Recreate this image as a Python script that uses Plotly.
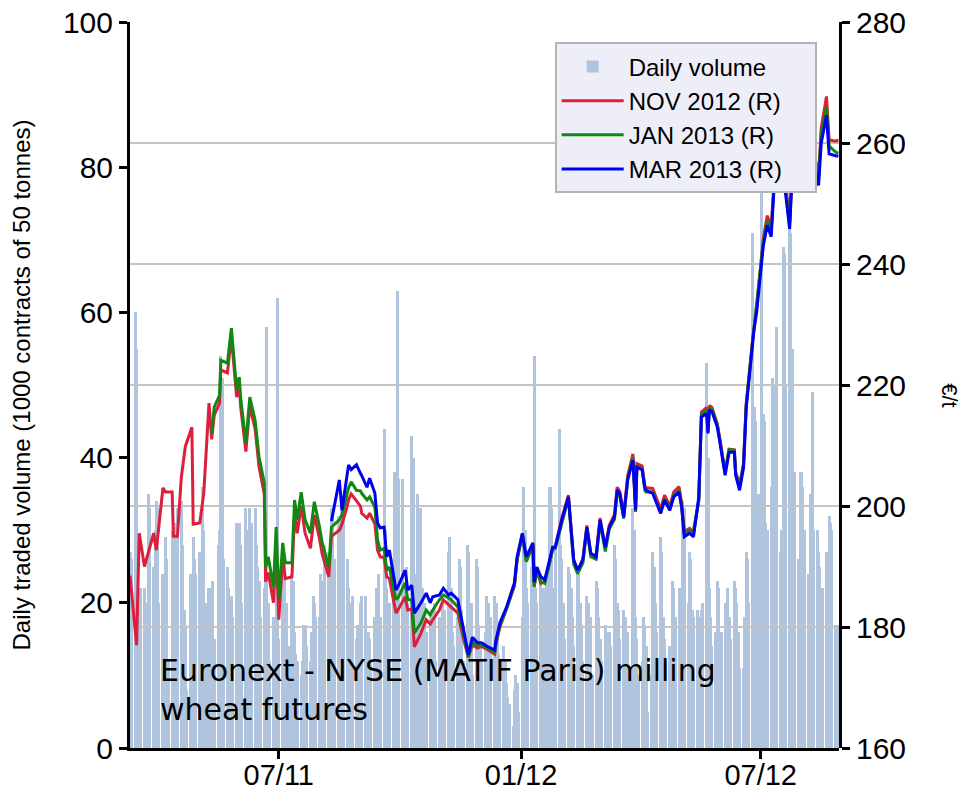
import plotly.graph_objects as go
import pandas as pd

# Daily traded volume (1000 contracts), one value per business day, month by month
VOL_2011_03 = [27, 26, 60, 55, 22, 21, 22, 22, 20, 15, 35, 33, 25, 30, 34, 33]
VOL_2011_04 = [20, 24, 18, 29, 26, 12, 30, 27, 31, 25, 33, 34, 28, 19, 17, 8, 24, 21, 29, 26, 24]
VOL_2011_05 = [27, 25, 36, 30, 20, 22, 19, 18, 23, 15, 28, 30, 54, 51, 26, 25, 22, 20, 21, 18, 31, 29]
VOL_2011_06 = [31, 28, 20, 33, 30, 25, 33, 31, 33, 28, 25, 23, 18, 22, 24, 58, 20, 12, 18, 18, 28, 62]
VOL_2011_07 = [15, 28, 26, 18, 20, 14, 24, 23, 16, 13, 12, 10, 12, 17, 17, 14, 12, 16, 21, 20, 18]
VOL_2011_08 = [18, 24, 23, 20, 28, 27, 22, 33, 32, 26, 32, 31, 24, 33, 32, 26, 22, 18, 20, 21, 15, 17, 16]
VOL_2011_09 = [20, 21, 21, 14, 16, 15, 12, 18, 22, 20, 24, 18, 44, 30, 22, 18, 20, 26, 38, 36, 63, 37]
VOL_2011_10 = [37, 22, 18, 25, 20, 43, 40, 24, 18, 35, 33, 22, 14, 20, 16, 18, 19, 14, 20, 12, 18]
VOL_2011_11 = [17, 20, 15, 19, 27, 29, 22, 16, 14, 18, 26, 25, 19, 12, 28, 27, 16, 20, 10, 26, 25, 17]
VOL_2011_12 = [14, 12, 16, 21, 20, 14, 18, 21, 20, 15, 13, 10, 14, 12, 9, 7, 6, 3, 8, 10, 9, 5]
VOL_2012_01 = [18, 36, 30, 22, 20, 25, 28, 54, 22, 20, 24, 19, 22, 16, 24, 36, 33, 22, 20, 28, 44, 28]
VOL_2012_02 = [26, 20, 15, 25, 24, 22, 18, 14, 25, 24, 20, 17, 12, 21, 20, 15, 18, 10, 23, 22, 18]
VOL_2012_03 = [15, 12, 17, 16, 12, 16, 14, 28, 26, 20, 19, 15, 19, 18, 13, 16, 11, 33, 30, 18, 15, 10]
VOL_2012_04 = [12, 18, 17, 14, 5, 10, 27, 25, 20, 16, 29, 27, 18, 15, 12, 14, 13, 23, 22, 18, 22]
VOL_2012_05 = [8, 22, 34, 33, 20, 27, 26, 19, 18, 19, 18, 15, 19, 20, 53, 40, 22, 18, 14, 16, 23, 22, 16]
VOL_2012_06 = [16, 20, 19, 22, 18, 15, 23, 22, 20, 16, 11, 11, 18, 27, 26, 20, 71, 47, 45, 30, 35]
VOL_2012_07 = [78, 46, 45, 31, 30, 36, 51, 50, 40, 58, 27, 30, 69, 68, 50, 72, 71, 55, 38, 38, 26, 38]
VOL_2012_08 = [38, 36, 30, 24, 23, 35, 49, 30, 30, 27, 25, 19, 22, 27, 26, 32, 31, 30, 17, 16, 17]

VOLUME_MONTHS = [
    ("2011-03-10", VOL_2011_03), ("2011-04-01", VOL_2011_04), ("2011-05-02", VOL_2011_05),
    ("2011-06-01", VOL_2011_06), ("2011-07-01", VOL_2011_07), ("2011-08-01", VOL_2011_08),
    ("2011-09-01", VOL_2011_09), ("2011-10-03", VOL_2011_10), ("2011-11-01", VOL_2011_11),
    ("2011-12-01", VOL_2011_12), ("2012-01-02", VOL_2012_01), ("2012-02-01", VOL_2012_02),
    ("2012-03-01", VOL_2012_03), ("2012-04-02", VOL_2012_04), ("2012-05-01", VOL_2012_05),
    ("2012-06-01", VOL_2012_06), ("2012-07-02", VOL_2012_07), ("2012-08-01", VOL_2012_08),
]

# Futures prices (EUR/t)
LINE_DATES = [
    "2011-03-10", "2011-03-15", "2011-03-17", "2011-03-21", "2011-03-28", "2011-03-30",
    "2011-04-04", "2011-04-06", "2011-04-11", "2011-04-12", "2011-04-15", "2011-04-18",
    "2011-04-21", "2011-04-26", "2011-04-27", "2011-05-02", "2011-05-05", "2011-05-09",
    "2011-05-11", "2011-05-13", "2011-05-17", "2011-05-18", "2011-05-23", "2011-05-26",
    "2011-05-30", "2011-06-01", "2011-06-02", "2011-06-06", "2011-06-09", "2011-06-13",
    "2011-06-16", "2011-06-20", "2011-06-21", "2011-06-23", "2011-06-27", "2011-06-29",
    "2011-07-01", "2011-07-04", "2011-07-06", "2011-07-11", "2011-07-13", "2011-07-15",
    "2011-07-18", "2011-07-21", "2011-07-25", "2011-07-28", "2011-08-01", "2011-08-03",
    "2011-08-08", "2011-08-10", "2011-08-16", "2011-08-18", "2011-08-22", "2011-08-23",
    "2011-08-25", "2011-08-29", "2011-09-01", "2011-09-02", "2011-09-06", "2011-09-08",
    "2011-09-12", "2011-09-14", "2011-09-16", "2011-09-19", "2011-09-21", "2011-09-23",
    "2011-09-28", "2011-09-30", "2011-10-05", "2011-10-07", "2011-10-10", "2011-10-12",
    "2011-10-17", "2011-10-21", "2011-10-24", "2011-10-26", "2011-10-31", "2011-11-03",
    "2011-11-07", "2011-11-09", "2011-11-14", "2011-11-18", "2011-11-22", "2011-11-25",
    "2011-11-29", "2011-12-02", "2011-12-07", "2011-12-12", "2011-12-13", "2011-12-16",
    "2011-12-21", "2011-12-27", "2011-12-29", "2012-01-02", "2012-01-05", "2012-01-10",
    "2012-01-11", "2012-01-13", "2012-01-16", "2012-01-19", "2012-01-23", "2012-01-25",
    "2012-01-27", "2012-02-01", "2012-02-06", "2012-02-10", "2012-02-13", "2012-02-17",
    "2012-02-20", "2012-02-23", "2012-02-27", "2012-03-01", "2012-03-05", "2012-03-08",
    "2012-03-12", "2012-03-14", "2012-03-16", "2012-03-19", "2012-03-22", "2012-03-26",
    "2012-03-28", "2012-03-29", "2012-04-02", "2012-04-04", "2012-04-05", "2012-04-10",
    "2012-04-16", "2012-04-19", "2012-04-23", "2012-04-26", "2012-04-30", "2012-05-02",
    "2012-05-04", "2012-05-08", "2012-05-11", "2012-05-15", "2012-05-17", "2012-05-21",
    "2012-05-22", "2012-05-23", "2012-05-25", "2012-05-29", "2012-05-31", "2012-06-04",
    "2012-06-07", "2012-06-11", "2012-06-12", "2012-06-15", "2012-06-18", "2012-06-20",
    "2012-06-25", "2012-06-26", "2012-06-28", "2012-07-03", "2012-07-06", "2012-07-09",
    "2012-07-11", "2012-07-13", "2012-07-16", "2012-07-18", "2012-07-20", "2012-07-23",
    "2012-07-25", "2012-07-27", "2012-07-31", "2012-08-03", "2012-08-07", "2012-08-10",
    "2012-08-14", "2012-08-16", "2012-08-20", "2012-08-22", "2012-08-27", "2012-08-29",
]

NOV_2012 = [
    188.5, 177.0, 195.5, 190.0, 195.5, 192.7,
    203.0, 202.3, 202.3, 195.0, 195.0, 204.8,
    209.8, 213.0, 197.0, 197.2, 202.0, 217.0,
    211.0, 215.0, 217.0, 222.5, 222.0, 228.0,
    218.0, 220.0, 216.5, 209.0, 216.5, 212.8,
    206.5, 202.0, 187.5, 189.0, 184.0, 194.0,
    181.2, 191.5, 188.0, 188.3, 198.8, 195.5,
    200.0, 195.5, 193.0, 198.5, 194.5, 192.0,
    188.3, 195.0, 196.0, 197.0, 200.0, 201.0,
    202.0, 200.8, 200.0, 198.8, 198.0, 198.8,
    197.0, 192.7, 191.6, 191.5, 188.3, 188.0,
    182.3, 183.0, 185.0, 182.8, 183.0, 176.7,
    179.0, 181.2, 180.5, 181.2, 182.8, 184.5,
    183.8, 183.3, 182.3, 178.3, 175.0, 177.0,
    176.5, 176.8, 176.2, 175.5, 177.2, 180.0,
    183.0, 186.8, 191.0, 195.3, 191.0, 193.7,
    186.8, 189.5, 187.2, 187.5, 190.8, 193.0,
    193.3, 198.0, 201.8, 191.0, 189.2, 191.3,
    196.8, 192.0, 191.8, 198.0, 193.0, 196.8,
    198.6, 203.1, 202.4, 198.6, 205.0, 208.6,
    199.6, 207.0, 206.6, 203.4, 203.0, 202.9,
    199.5, 201.8, 200.0, 202.3, 203.2, 200.5,
    195.8, 196.3, 195.5, 201.0, 215.5, 216.3,
    212.6, 216.6, 216.3, 213.6, 211.2, 205.6,
    209.4, 209.3, 205.6, 203.6, 207.0, 216.9,
    227.8, 229.8, 232.9, 244.2, 248.0, 246.0,
    253.0, 257.3, 260.5, 256.3, 253.3, 247.0,
    256.5, 259.5, 263.8, 260.8, 263.8, 258.8,
    254.8, 262.5, 267.7, 260.5, 260.3, 260.5,
]

JAN_2013 = [
    None, None, None, None, None, None,
    None, None, None, None, None, None,
    None, None, None, None, None, None,
    212.0, 216.4, 218.3, 224.1, 223.6, 229.4,
    219.2, 221.3, 218.0, 210.4, 218.0, 214.2,
    208.1, 203.8, 189.9, 191.6, 186.6, 196.5,
    184.5, 193.9, 190.6, 190.6, 201.0, 197.7,
    202.3, 197.7, 195.5, 200.7, 196.5, 193.9,
    189.9, 196.5, 197.7, 198.5, 202.1, 203.0,
    204.0, 202.6, 202.5, 202.1, 201.0, 201.5,
    199.8, 194.4, 192.7, 193.0, 189.4, 189.9,
    184.5, 185.0, 187.3, 184.5, 184.5, 179.0,
    180.7, 182.8, 182.0, 182.8, 184.5, 185.3,
    184.8, 184.5, 183.3, 179.0, 175.0, 177.5,
    177.0, 177.0, 176.5, 175.8, 177.5, 180.3,
    183.0, 187.0, 191.2, 195.3, 190.8, 193.5,
    186.6, 189.3, 187.5, 187.2, 190.6, 192.8,
    193.0, 197.4, 201.3, 190.4, 188.8, 190.6,
    196.2, 191.6, 191.2, 197.3, 192.5, 196.2,
    197.8, 202.4, 201.6, 197.9, 204.5, 208.0,
    199.0, 206.6, 206.0, 202.6, 202.3, 202.3,
    198.8, 201.2, 199.5, 201.8, 202.5, 200.0,
    195.5, 196.0, 196.0, 200.8, 215.0, 215.8,
    212.3, 216.3, 216.0, 213.5, 211.0, 205.5,
    209.3, 209.2, 205.4, 203.2, 206.8, 216.6,
    227.5, 229.6, 232.6, 243.6, 247.0, 245.5,
    252.5, 256.8, 259.8, 255.8, 252.8, 246.5,
    255.8, 258.8, 263.0, 260.0, 263.0, 258.0,
    254.0, 261.5, 266.0, 259.5, 258.5, 258.3,
]

MAR_2013 = [
    None, None, None, None, None, None,
    None, None, None, None, None, None,
    None, None, None, None, None, None,
    None, None, None, None, None, None,
    None, None, None, None, None, None,
    None, None, None, None, None, None,
    None, None, None, None, None, None,
    None, None, None, None, None, None,
    None, 197.5, 204.3, 199.3, 205.4, 206.8,
    206.0, 206.8, 205.4, 205.0, 203.1, 204.6,
    202.1, 197.2, 196.4, 196.5, 191.6, 192.7,
    186.1, 186.9, 189.4, 186.1, 186.9, 182.3,
    184.0, 185.6, 184.0, 185.0, 185.3, 186.4,
    185.3, 185.6, 184.5, 180.0, 175.4, 178.3,
    177.4, 177.4, 176.7, 176.2, 177.9, 180.7,
    183.3, 187.3, 191.6, 195.5, 191.6, 193.9,
    187.4, 189.9, 188.3, 187.8, 191.1, 193.2,
    193.2, 197.7, 201.5, 191.1, 189.4, 191.1,
    196.5, 192.2, 191.6, 197.7, 193.2, 196.5,
    198.2, 202.6, 202.1, 198.2, 204.3, 207.6,
    199.3, 206.4, 206.0, 203.1, 202.6, 202.1,
    198.8, 201.0, 199.3, 201.5, 202.3, 199.8,
    194.9, 195.5, 194.9, 201.5, 214.7, 215.3,
    212.0, 215.9, 215.6, 213.1, 210.6, 205.1,
    208.9, 208.9, 205.1, 202.6, 206.4, 216.2,
    227.1, 229.2, 232.1, 243.0, 246.4, 244.5,
    251.9, 256.0, 259.0, 255.0, 252.0, 245.8,
    255.0, 258.0, 262.0, 259.0, 262.0, 257.0,
    253.0, 260.0, 264.6, 258.2, 257.9, 257.8,
]

TICK_DATES = ["2011-07-01", "2012-01-01", "2012-07-01"]
TICK_TEXT = ["07/11", "01/12", "07/12"]

FONT = "Liberation Sans, Arial, sans-serif"
PAD = "\u00a0" * 4  # a little room at the right of the legend text

vol_dates, vol_values = [], []
for start, vals in VOLUME_MONTHS:
    vol_dates += list(pd.bdate_range(start, periods=len(vals)))
    vol_values += vals

fig = go.Figure()

# volume bars on the left axis (first subplot)
fig.add_trace(go.Bar(
    x=vol_dates, y=vol_values, name="Daily volume" + PAD,
    marker=dict(color="#b0c4de", line_width=0),
    width=2.3 * 86400000, xaxis="x", yaxis="y",
))

# prices on the right axis (second subplot drawn on top, so its grid shows over the bars)
for name, vals, color in [("NOV 2012 (R)", NOV_2012, "#dc1f3c"),
                          ("JAN 2013 (R)", JAN_2013, "#118811"),
                          ("MAR 2013 (R)", MAR_2013, "#0000ee")]:
    fig.add_trace(go.Scatter(
        x=LINE_DATES, y=vals, name=name + PAD, mode="lines",
        line=dict(color=color, width=3), xaxis="x2", yaxis="y2",
    ))

axis_common = dict(showline=True, linecolor="black", linewidth=3,
                   ticks="outside", ticklen=8, tickwidth=3, tickcolor="black",
                   ticklabeloverflow="allow", zeroline=False, automargin=False)
tick_font = dict(size=30, color="black", family=FONT)

fig.update_layout(
    width=967, height=792,
    margin=dict(l=130, r=128, t=22, b=44),
    paper_bgcolor="white", plot_bgcolor="rgba(0,0,0,0)",
    font=dict(family=FONT, color="black"),
    bargap=0,
    xaxis=dict(domain=[0, 1], anchor="y", type="date",
               range=["2011-03-10", "2012-08-29 12:00"],
               tickvals=TICK_DATES, ticktext=TICK_TEXT, showgrid=False,
               tickfont=dict(size=29, color="black", family=FONT),
               ticklabelstandoff=-9, **axis_common),
    yaxis=dict(domain=[0, 1], anchor="x", range=[0, 100], tickvals=[0, 20, 40, 60, 80, 100],
               showgrid=False, tickfont=tick_font,
               title=dict(text="Daily traded volume (1000 contracts of 50 tonnes)",
                          font=dict(size=24, color="black"), standoff=26),
               **axis_common),
    xaxis2=dict(domain=[0, 1], anchor="y2", matches="x", visible=False),
    yaxis2=dict(domain=[0, 1], anchor="x2", side="right", range=[160, 280],
                tickvals=[160, 180, 200, 220, 240, 260, 280], tickfont=tick_font,
                showgrid=True, gridcolor="#c4c4c4", gridwidth=2,
                **axis_common),
    legend=dict(x=0.599, y=0.972, xanchor="left", yanchor="top",
                bgcolor="#eeeef8", bordercolor="#b4b4b4", borderwidth=2,
                font=dict(size=24, color="black"), itemwidth=62,
                tracegroupgap=0),
    annotations=[
        dict(text="Euronext - NYSE (MATIF Paris) milling<br>wheat futures",
             xref="paper", yref="paper", x=0.040, y=0.080,
             xanchor="left", yanchor="middle", align="left", showarrow=False,
             font=dict(size=30, color="black", family="DejaVu Sans, sans-serif")),
        dict(text="€/t", xref="paper", yref="paper", x=1.1565, y=0.486,
             xanchor="center", yanchor="middle",
             textangle=90, showarrow=False, font=dict(size=22, color="black")),
    ],
    showlegend=True,
)

# drop the default 8px body margin so the figure sits at the window's corner
fig.write_html("out.html", config={"displayModeBar": False},
               post_script="document.body.style.margin = '0px';")
